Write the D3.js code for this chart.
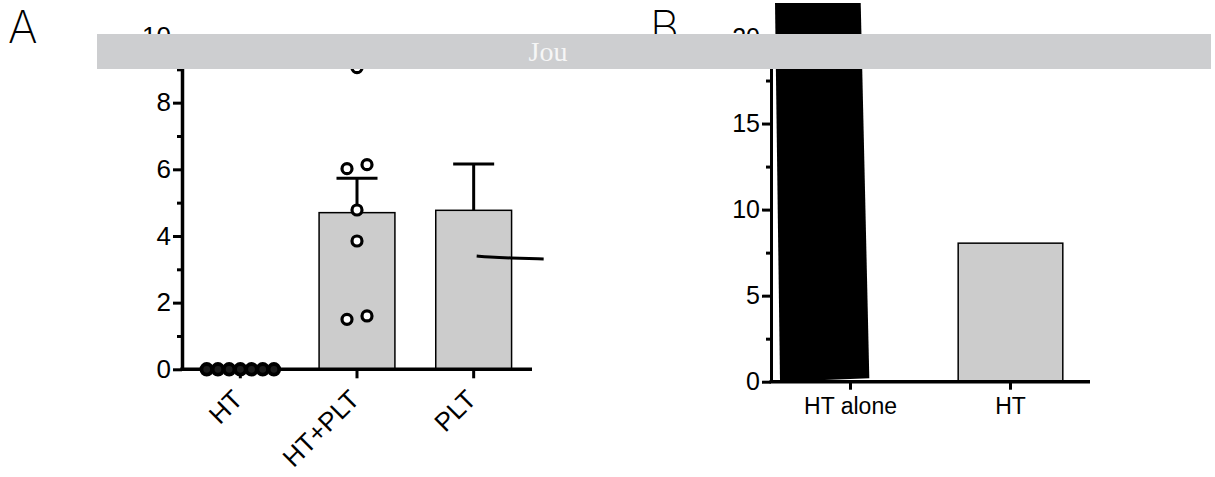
<!DOCTYPE html>
<html>
<head>
<meta charset="utf-8">
<script src="https://cdn.jsdelivr.net/npm/d3@7"></script>
<style>
  body { margin: 0; background: #fff; }
  svg { display: block; }
  .tick text { font-family: "Liberation Sans", Arial, sans-serif; fill: #000; }
  .axis path, .axis line { stroke: #000; }
</style>
</head>
<body>
<div id="figure"></div>
<script>
// Panel A data
const catsA = ['HT', 'HT+PLT', 'PLT'];
const meansA = [0, 4.70, 4.77];
const sdA = [0, 1.03, 1.39];
const ticksA = [0, 2, 4, 6, 8, 10];
const minorA = [1, 3, 5, 7, 9];
const dotsHT = [0, 0, 0, 0, 0, 0, 0];
const dotsHTPLT = [9.05, 6.02, 6.14, 4.78, 3.85, 1.50, 1.60];
const jitterHTPLT = [0, -1, 1, 0, 0, -1, 1];
const strayLine = [3.40, 3.37, 3.34, 3.31];

// Panel B data
const catsB = ['HT alone', 'HT'];
const valuesB = [22, 8.05];
const ticksB = [0, 5, 10, 15, 20];
const minorB = [2.5, 7.5, 12.5, 17.5];

const width = 1215;
const height = 477;

const svg = d3.select('#figure')
  .append('svg')
  .attr('width', width)
  .attr('height', height);

// ---------- Panel A ----------
const xA = d3.scaleBand()
  .domain(catsA)
  .range([182, 532])
  .paddingInner(0.35)
  .paddingOuter(0.175);

const yA = d3.scaleLinear()
  .domain([0, 10])
  .range([369.3, 36]);

const gA = svg.append('g');

// Bars
gA.selectAll('.bar-a')
  .data(catsA.map((c, i) => ({ cat: c, mean: meansA[i], sd: sdA[i] })).filter((d) => d.mean > 0))
  .enter()
  .append('rect')
  .attr('class', 'bar-a')
  .attr('x', (d) => xA(d.cat))
  .attr('width', xA.bandwidth())
  .attr('y', (d) => yA(d.mean))
  .attr('height', (d) => yA(0) - yA(d.mean))
  .style('fill', '#cccccc')
  .style('stroke', '#000')
  .style('stroke-width', 1.5);

// Error bars (upper only)
const errData = catsA.map((c, i) => ({ cat: c, mean: meansA[i], sd: sdA[i] })).filter((d) => d.sd > 0);
gA.selectAll('.err-v')
  .data(errData)
  .enter()
  .append('line')
  .attr('x1', (d) => xA(d.cat) + xA.bandwidth() / 2)
  .attr('x2', (d) => xA(d.cat) + xA.bandwidth() / 2)
  .attr('y1', (d) => yA(d.mean))
  .attr('y2', (d) => yA(d.mean + d.sd))
  .attr('stroke', '#000')
  .attr('stroke-width', 3);

gA.selectAll('.err-cap')
  .data(errData)
  .enter()
  .append('line')
  .attr('x1', (d) => xA(d.cat) + xA.bandwidth() / 2 - 20.5)
  .attr('x2', (d) => xA(d.cat) + xA.bandwidth() / 2 + 20.5)
  .attr('y1', (d) => yA(d.mean + d.sd))
  .attr('y2', (d) => yA(d.mean + d.sd))
  .attr('stroke', '#000')
  .attr('stroke-width', 3);

// stray pen line across the PLT bar
const plx = xA('PLT') + xA.bandwidth() / 2;
const strayDx = [3, 15, 35, 70];
gA.append('path')
  .datum(strayLine.map((v, i) => [plx + strayDx[i], yA(v)]))
  .attr('d', d3.line().curve(d3.curveBasis))
  .attr('fill', 'none')
  .attr('stroke', '#000')
  .attr('stroke-width', 3);

// Y axis
const yAxisA = gA.append('g')
  .attr('class', 'axis')
  .attr('transform', 'translate(182,0)')
  .call(d3.axisLeft(yA).tickValues(ticksA).tickSize(9).tickSizeOuter(0).tickPadding(2));
yAxisA.select('.domain').attr('stroke-width', 3.5);
yAxisA.selectAll('.tick line').attr('stroke-width', 3);
yAxisA.selectAll('.tick text').attr('font-size', 26);

gA.append('g')
  .attr('class', 'axis')
  .attr('transform', 'translate(182,0)')
  .call(d3.axisLeft(yA).tickValues(minorA).tickSize(5).tickFormat(''))
  .call((g) => g.select('.domain').remove())
  .selectAll('.tick line').attr('stroke-width', 3);

// X axis
const xAxisA = gA.append('g')
  .attr('class', 'axis')
  .attr('transform', `translate(0, ${yA(0)})`)
  .call(d3.axisBottom(xA).tickSize(9).tickSizeOuter(0).tickFormat(''));
xAxisA.select('.domain').attr('stroke-width', 3.5).attr('d', `M180.3,0H532`);
xAxisA.selectAll('.tick line').attr('stroke-width', 3);

// Rotated category labels
gA.selectAll('.label-a')
  .data(catsA)
  .enter()
  .append('text')
  .attr('transform', (d) => `translate(${xA(d) + xA.bandwidth() / 2 + 4}, 401) rotate(-45)`)
  .attr('text-anchor', 'end')
  .style('font-family', '"Liberation Sans", Arial, sans-serif')
  .style('font-size', '26px')
  .text((d) => d);

// Dots: HT (all zero) and HT+PLT
const htx = xA('HT') + xA.bandwidth() / 2;
gA.selectAll('.dot-ht')
  .data(dotsHT)
  .enter()
  .append('circle')
  .attr('cx', (d, i) => htx + (i - 3) * 11.2)
  .attr('cy', (d) => yA(d))
  .attr('r', 5.3)
  .style('fill', '#1c1c1c')
  .style('stroke', '#000')
  .style('stroke-width', 3.8);

const hpx = xA('HT+PLT') + xA.bandwidth() / 2;
gA.selectAll('.dot-htplt')
  .data(dotsHTPLT)
  .enter()
  .append('circle')
  .attr('cx', (d, i) => hpx + jitterHTPLT[i] * 10)
  .attr('cy', (d) => yA(d))
  .attr('r', 5)
  .style('fill', '#fff')
  .style('stroke', '#000')
  .style('stroke-width', 3.2);

// ---------- Panel B ----------
const xB = d3.scaleBand()
  .domain(catsB)
  .range([771, 1090])
  .paddingInner(0.346)
  .paddingOuter(0.17);

const yB = d3.scaleLinear()
  .domain([0, 20])
  .range([381.7, 37.5]);

const gB = svg.append('g');

// The skewed black bar (HT alone), as it appears in the scan
const bx = xB('HT alone') + xB.bandwidth() / 2;
gB.append('polygon')
  .attr('points', [
    [bx - 70.5, yB(0)],
    [bx + 18.8, yB(0.2)],
    [bx + 10.2, yB(valuesB[0])],
    [bx - 75.5, yB(valuesB[0])]
  ].map((p) => p.join(',')).join(' '))
  .style('fill', '#000');

// Grey bar (HT)
gB.append('rect')
  .attr('x', xB('HT'))
  .attr('width', xB.bandwidth())
  .attr('y', yB(valuesB[1]))
  .attr('height', yB(0) - yB(valuesB[1]))
  .style('fill', '#cccccc')
  .style('stroke', '#000')
  .style('stroke-width', 1.5);

// Y axis
const yAxisB = gB.append('g')
  .attr('class', 'axis')
  .attr('transform', 'translate(771,0)')
  .call(d3.axisLeft(yB).tickValues(ticksB).tickSize(9).tickSizeOuter(0).tickPadding(2));
yAxisB.select('.domain').attr('stroke-width', 3);
yAxisB.selectAll('.tick line').attr('stroke-width', 3);
yAxisB.selectAll('.tick text').attr('font-size', 25);

gB.append('g')
  .attr('class', 'axis')
  .attr('transform', 'translate(771,0)')
  .call(d3.axisLeft(yB).tickValues(minorB).tickSize(5).tickFormat(''))
  .call((g) => g.select('.domain').remove())
  .selectAll('.tick line').attr('stroke-width', 3);

// X axis
const xAxisB = gB.append('g')
  .attr('class', 'axis')
  .attr('transform', `translate(0, ${yB(0)})`)
  .call(d3.axisBottom(xB).tickSize(8).tickSizeOuter(0).tickPadding(8));
xAxisB.select('.domain').attr('stroke-width', 3.5).attr('d', 'M769.5,0H1090');
xAxisB.selectAll('.tick line').attr('stroke-width', 3);
xAxisB.selectAll('.tick text').attr('font-size', 23);

// ---------- Panel letters ----------
svg.append('text')
  .attr('x', 8)
  .attr('y', 43)
  .style('font-family', 'Inter, "Noto Sans", sans-serif')
  .style('font-weight', 200)
  .style('font-size', '45px')
  .text('A');

svg.append('text')
  .attr('x', 650)
  .attr('y', 43)
  .style('font-family', 'Inter, "Noto Sans", sans-serif')
  .style('font-weight', 200)
  .style('font-size', '45px')
  .text('B');

// ---------- Grey banner across the top ----------
svg.append('rect')
  .attr('x', 97)
  .attr('y', 34)
  .attr('width', 1114)
  .attr('height', 35)
  .style('fill', '#cdced0');

svg.append('text')
  .attr('x', 548)
  .attr('y', 61)
  .attr('text-anchor', 'middle')
  .style('font-family', '"Liberation Serif", "Times New Roman", serif')
  .style('font-size', '28px')
  .style('fill', '#f6f6f6')
  .text('Jou');
</script>
</body>
</html>
